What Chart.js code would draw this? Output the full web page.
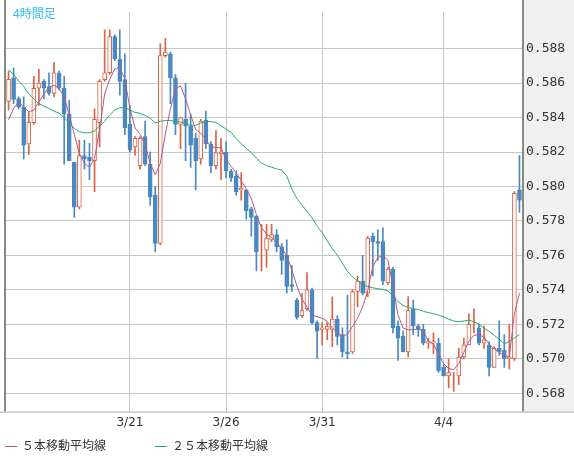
<!DOCTYPE html>
<html><head><meta charset="utf-8">
<script src="https://cdn.jsdelivr.net/npm/chart.js@4/dist/chart.umd.min.js"></script>
<style>
html,body{margin:0;padding:0;background:#fff;}
#wrap{position:relative;width:574px;height:462px;}
#title{position:absolute;left:13px;top:4px;font:12px "Noto Sans CJK JP";color:#33bdf0;}
#legend{position:absolute;left:0;top:436px;font:12px "Noto Sans CJK JP";color:#333;}
.it{position:absolute;top:0;white-space:nowrap;}
.ln{display:inline-block;width:12px;height:1px;vertical-align:middle;margin-right:5px;}
</style></head><body>
<div id="wrap"><canvas id="c" width="574" height="462"></canvas>
<div id="title">4時間足</div>
<div id="legend"><div class="it" style="left:5px"><span class="ln" style="background:#b4588c"></span>５本移動平均線</div>
<div class="it" style="left:155px"><span class="ln" style="background:#1fae6e"></span>２５本移動平均線</div></div>
</div>
<script>
const dateLabels = {24:'3/21',43:'3/26',62:'3/31',86:'4/4'};
const openV = [.58494,.58631,.5851,.5846,.58247,.5837,.5857,.5861,.5858,.5854,.5866,.5857,.5842,.5814,.5788,.5818,.5817,.5815,.5837,.5862,
.5866,.5887,.5874,.5862,.5836,.5823,.5812,.5829,.5813,.5795,.5767,.5876,.5877,.5863,.5836,.5839,.5835,.5828,.5816,.58386,
.58245,.58121,.5819,.5820,.5809,.5806,.5798,.5798,.5787,.5783,.5763,.5763,.5769,.5772,.5765,.5760,.5743,.5734,.5725,.5729,
.5740,.5721,.5717,.5717,.5717,.5723,.5714,.5704,.5704,.5739,.5745,.5738,.5771,.5768,.5768,.5744,.5752,.5719,.5713,.5704,
.5729,.5719,.5717,.5709,.5709,.5709,.5695,.5690,.5689,.5690,.5701,.5708,.5719,.5718,.5709,.5708,.5695,.5706,.5705,.5700,
.5700,.5798];
const closeV = [.58622,.58505,.5846,.5824,.58372,.5857,.5860,.5857,.5854,.5866,.5857,.5842,.5815,.5788,.5818,.5816,.5815,.5839,.5861,.5866,
.5887,.5874,.5861,.5834,.5821,.5828,.5828,.5813,.5794,.5767,.5876,.5878,.5863,.5836,.5840,.5835,.5824,.5815,.5838,.58249,
.58121,.58196,.5820,.5809,.5805,.5797,.5799,.5786,.5782,.5762,.5763,.5770,.5772,.5765,.5757,.5742,.5742,.5724,.5728,.5740,
.5721,.5716,.5718,.5719,.5723,.5713,.5704,.5703,.5739,.5745,.5738,.5770,.5768,.5767,.5745,.5752,.5718,.5712,.5704,.5728,
.5719,.5717,.5709,.5710,.5710,.5693,.5690,.5692,.5689,.5701,.5708,.5720,.5719,.5709,.5711,.5695,.5706,.5704,.5700,.5701,
.5796,.5792];
const highV = [.58669,.58687,.5852,.5852,.58434,.5864,.5868,.5862,.5866,.5872,.5867,.5864,.5850,.5814,.5827,.5827,.5825,.5845,.5862,.5891,
.5891,.5888,.5891,.5877,.5847,.5829,.5829,.5838,.5820,.5800,.5883,.5886,.5878,.5865,.5840,.5860,.5842,.5831,.5839,.58437,
.5826,.58324,.5828,.5826,.5810,.5809,.5808,.5798,.5788,.5783,.5778,.5778,.5778,.5775,.5767,.5769,.5754,.5735,.5738,.5750,
.5741,.5722,.5721,.5721,.5736,.5725,.5718,.5737,.5740,.5748,.5760,.5771,.5773,.5775,.5776,.5753,.5753,.5722,.5716,.5736,
.5734,.5720,.5720,.5712,.5715,.5712,.5697,.5700,.5692,.5706,.5712,.5726,.5729,.5720,.5719,.5710,.5707,.5722,.5714,.5720,
.5797,.5818];
const lowV = [.58444,.58481,.5845,.5816,.58186,.5836,.5847,.5851,.5853,.5852,.5856,.5813,.5815,.5782,.5787,.5810,.5804,.5797,.5823,.5861,
.5865,.5873,.5853,.5830,.5820,.5818,.5810,.5812,.5789,.5762,.5766,.5875,.5848,.5830,.5822,.5815,.5811,.5798,.5813,.5822,
.5808,.5810,.5804,.5805,.5803,.5795,.5792,.5781,.5771,.5751,.5751,.5753,.5768,.5762,.5749,.5738,.5739,.5723,.5724,.5728,
.5720,.5700,.5708,.5711,.5707,.5708,.5701,.5700,.5703,.5730,.5737,.5736,.5748,.5757,.5743,.5743,.5715,.5699,.5704,.5701,
.5714,.5713,.5708,.5706,.5703,.5692,.5690,.5683,.5681,.5685,.5700,.5708,.5715,.5708,.5706,.5690,.5695,.5702,.5695,.5694,
.5699,.5785];
const ma5 = [.58387,.58453,.5849,.58462,.58434,.58444,.5849,.58537,.58575,.58588,.58569,.58519,.58415,.58303,.5819,.58134,.58111,.58162,.58331,.58537,
.58622,.58682,.58693,.58622,.58453,.5834,.58303,.58247,.58134,.58068,.58134,.58303,.58453,.58565,.58584,.58509,.58415,.5833,.5831,.58277,
.5823,.58226,.58224,.58155,.58117,.5808,.58033,.57986,.5793,.57836,.57761,.57723,.57704,.57676,.57638,.57601,.57516,.57422,.57347,.573,
.57253,.57244,.57235,.57216,.57178,.5715,.57131,.57141,.57188,.57235,.573,.57395,.57534,.57587,.576,.57571,.57421,.57253,.57178,.57168,
.57168,.57174,.57159,.57102,.57084,.57027,.56971,.56943,.56937,.56971,.57037,.57102,.57136,.5714,.57125,.57084,.57056,.57037,.57018,.57012,
.57262,.5738];
const ma25 = [.58678,.5865,.58612,.5858,.58537,.58509,.58481,.58466,.58453,.58437,.58425,.584,.58368,.58337,.58318,.58312,.58312,.58322,.5835,.58378,
.58415,.58444,.58457,.58457,.58444,.5843,.58425,.58412,.58397,.58368,.58378,.58383,.58383,.58378,.58374,.58363,.58355,.58355,.58368,.58377,
.58377,.58371,.58352,.58333,.58315,.58277,.58249,.58221,.58196,.58164,.58136,.58121,.58112,.58102,.58095,.58061,.57986,.5793,.57892,.57854,
.57817,.5777,.57732,.57685,.57638,.57601,.57554,.57507,.57475,.57451,.57432,.57419,.57412,.57406,.57403,.57393,.57365,.57331,.57309,.57299,
.5729,.57286,.57275,.57268,.57262,.57253,.57243,.5723,.57219,.57215,.57219,.57224,.57215,.572,.57177,.57159,.57136,.57112,.57087,.57099,
.57121,.5714];
const yTicks = [.568,.570,.572,.574,.576,.578,.580,.582,.584,.586,.588];

const UP='#dc6342', DOWN='#4a88c2';
const labels = openV.map((_,i)=>dateLabels[i]||'');
const up = openV.map((o,i)=>closeV[i]>=o);
const frame = {id:'frame',
  beforeDraw(ch){const c=ch.ctx,a=ch.chartArea;c.save();c.fillStyle='#f0f0f0';c.fillRect(a.right,0,ch.width-a.right,a.bottom);c.restore();},
  afterDraw(ch){const c=ch.ctx,a=ch.chartArea;c.save();c.strokeStyle='#8a8a84';c.lineWidth=2;
    c.beginPath();c.moveTo(a.left-1,0);c.lineTo(a.left-1,a.bottom);c.moveTo(a.right+1,0);c.lineTo(a.right+1,a.bottom);c.stroke();
    c.lineWidth=1;c.strokeStyle='#aaa';c.beginPath();c.moveTo(0,a.bottom+0.5);c.lineTo(ch.width,a.bottom+0.5);c.stroke();c.restore();}};
new Chart(document.getElementById('c'),{
  data:{labels,datasets:[
    {type:'line',data:ma5,borderColor:'#b4588c',borderWidth:1,pointRadius:0,tension:0,order:0},
    {type:'line',data:ma25,borderColor:'#1fae6e',borderWidth:1,pointRadius:0,tension:0,order:0},
    {type:'bar',data:openV.map((o,i)=>[openV[i],closeV[i]]),grouped:false,barThickness:4,borderSkipped:false,borderWidth:1,
      backgroundColor:up.map(u=>u?'#ffffff':DOWN),borderColor:up.map(u=>u?UP:DOWN),order:1},
    {type:'bar',data:lowV.map((l,i)=>[l,highV[i]]),grouped:false,barThickness:1,borderWidth:0,
      backgroundColor:up.map(u=>u?UP:DOWN),order:2}
  ]},
  options:{responsive:false,animation:false,events:[],
    layout:{padding:{left:6,top:0,bottom:28,right:0}},
    plugins:{legend:{display:false},tooltip:{enabled:false}},
    scales:{
      x:{offset:true,grid:{offset:false,drawTicks:false,color:c=>(labels[c.index]?'#c8c8c8':'rgba(0,0,0,0)')},border:{display:false},
        ticks:{autoSkip:false,maxRotation:0,padding:4,color:'#333',font:{family:'DejaVu Sans',size:12}}},
      y:{position:'right',min:.56693,max:.59014,grid:{color:'#c8c8c8',drawTicks:false},border:{display:false},
        afterBuildTicks:s=>{s.ticks=yTicks.map(v=>({value:v}));},
        afterFit:s=>{s.width=52;},
        ticks:{padding:4,color:'#333',font:{family:'DejaVu Sans Mono',size:13},callback:v=>v.toFixed(3)}}
    }},
  plugins:[frame]
});
</script></body></html>
